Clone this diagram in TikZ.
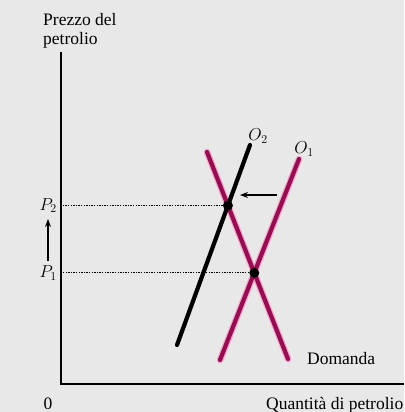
\documentclass[tikz,border=0pt]{standalone}
\usepackage{fontspec}
\setmainfont{Liberation Serif}
\usepackage{xcolor}
\usepackage{tikz}
\usetikzlibrary{arrows.meta}
\definecolor{oilred}{HTML}{9C0A52}
\definecolor{oilpink}{HTML}{F0A8CC}
\definecolor{paper}{HTML}{E8E8E8}

\begin{document}
\begin{tikzpicture}[x=1pt, y=-1pt,
    curve/.style={line width=4.2pt, line cap=round},
    glow/.style={oilpink, line width=6.6pt, line cap=round},
    guide/.style={line width=1.1pt, dash pattern=on 1.4pt off 1.2pt},
    eqdot/.style={circle, fill=black, inner sep=0pt, minimum size=10pt},
    lbl/.style={font=\fontsize{17.5}{17.5}\selectfont, inner sep=0pt},
    shiftarrow/.style={line width=1.2pt, -{Stealth[length=8pt, width=6pt]}}]

      \fill[paper] (0,0) rectangle (404,412);
      \useasboundingbox (0,0) rectangle (404,412);

      \coordinate (ytop)   at (61,52);
      \coordinate (origin) at (61,384);
      \coordinate (xend)   at (404,384);
      \draw[line width=1.6pt] (ytop) -- (origin) -- (xend);

      \coordinate (dTop)   at (207,152);
      \coordinate (dBot)   at (288,359);
      \coordinate (oneTop) at (299,159);
      \coordinate (oneBot) at (220,360);
      \coordinate (twoTop) at (250,145);
      \coordinate (twoBot) at (177,345);

      \coordinate (eqOne) at (intersection of dTop--dBot and oneTop--oneBot);
      \coordinate (eqTwo) at (intersection of dTop--dBot and twoTop--twoBot);

      \draw[guide] (eqOne) -- (eqOne -| origin);
      \draw[guide] (eqTwo) -- (eqTwo -| origin);

      \foreach \a/\b in {dTop/dBot, oneTop/oneBot}{
        \draw[glow] (\a) -- (\b);
      }
      \foreach \a/\b in {dTop/dBot, oneTop/oneBot}{
        \draw[curve, oilred] (\a) -- (\b);
      }
      \draw[curve, black] (twoTop) -- (twoBot);

      \node[eqdot] (dotOne) at (eqOne) {};
      \node[eqdot] (dotTwo) at (eqTwo) {};

      \coordinate (shiftStart) at (277,195);
      \coordinate (shiftEnd)   at (240,195);
      \draw[shiftarrow] (shiftStart) -- (shiftEnd);

      \node[lbl, anchor=east] (labPone) at ([xshift=-4pt]eqOne -| origin) {$P_1$};
      \node[lbl, anchor=east] (labPtwo) at ([xshift=-4pt]eqTwo -| origin) {$P_2$};
      \coordinate (riseStart) at (48,261);
      \coordinate (riseEnd)   at (48,219);
      \draw[shiftarrow] (riseStart) -- (riseEnd);

      \node[lbl] (labOtwo) at (258,136) {$O_2$};
      \node[lbl] (labOone) at (304,149) {$O_1$};

      \node[lbl, anchor=base west] (labDem) at (307,364) {Domanda};
      \node[lbl, anchor=base west] (labQty) at (266,409) {Quantità di petrolio};
      \node[lbl, anchor=base] (labZero) at (48,409) {0};
      \node[lbl, anchor=base west] (labTitleA) at (43,26) {Prezzo del};
      \node[lbl, anchor=base west] (labTitleB) at (43,45) {petrolio};

    \end{tikzpicture}
\end{document}
